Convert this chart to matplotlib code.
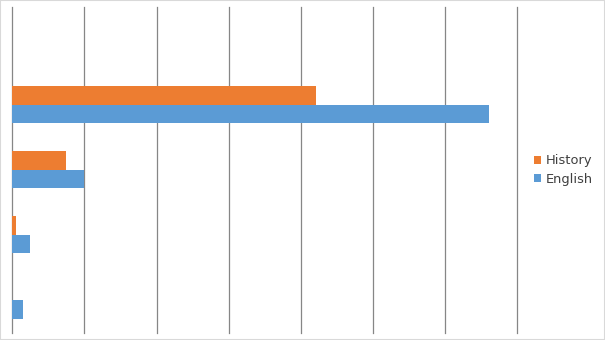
import matplotlib.pyplot as plt
from matplotlib.patches import Rectangle
import numpy as np

# categories from bottom to top (no labels shown on the chart)
categories = ["", "", "", "", ""]
history = [0, 0.05, 0.75, 4.21, 0]
english = [0.15, 0.25, 1.0, 6.61, 0]

couleur_history = "#ED7D31"
couleur_english = "#5B9BD5"

fig = plt.figure(figsize=(6.05, 3.4), dpi=100)
ax = fig.add_axes([12.3 / 605, 1 - 332.7 / 340, 505 / 605, 325.7 / 340])

y = np.arange(len(categories))
h = 0.284
ax.barh(y - h / 2, english, h, color=couleur_english, label="English", zorder=3)
ax.barh(y + h / 2, history, h, color=couleur_history, label="History", zorder=3)

ax.set_xlim(0, 7)
ax.set_ylim(-0.5, len(categories) - 0.5)
ax.set_xticks(range(0, 8))
ax.set_yticks([])
ax.tick_params(axis="x", length=0, labelbottom=False)
ax.grid(axis="x", color="#868686", linewidth=0.9, zorder=0)
for gl in ax.get_xgridlines():
  gl.set_clip_on(False)
for s in ax.spines.values():
  s.set_visible(False)

# legende : History au-dessus de English
poignees, etiquettes = ax.get_legend_handles_labels()
leg = fig.legend(poignees[::-1], etiquettes[::-1], loc="center left",
                 bbox_to_anchor=(527 / 605, 1 - 170 / 340), frameon=False,
                 fontsize=9.4, handlelength=0.6, handleheight=0.6,
                 handletextpad=0.3, labelspacing=0.4, borderpad=0)
for t in leg.get_texts():
  t.set_color("#404040")

# bordure du graphique
fig.patches.append(Rectangle((0, 0), 1, 1, transform=fig.transFigure,
                             fill=False, edgecolor="#d9d9d9", linewidth=1.5))

fig.savefig("out.png", dpi=100)
